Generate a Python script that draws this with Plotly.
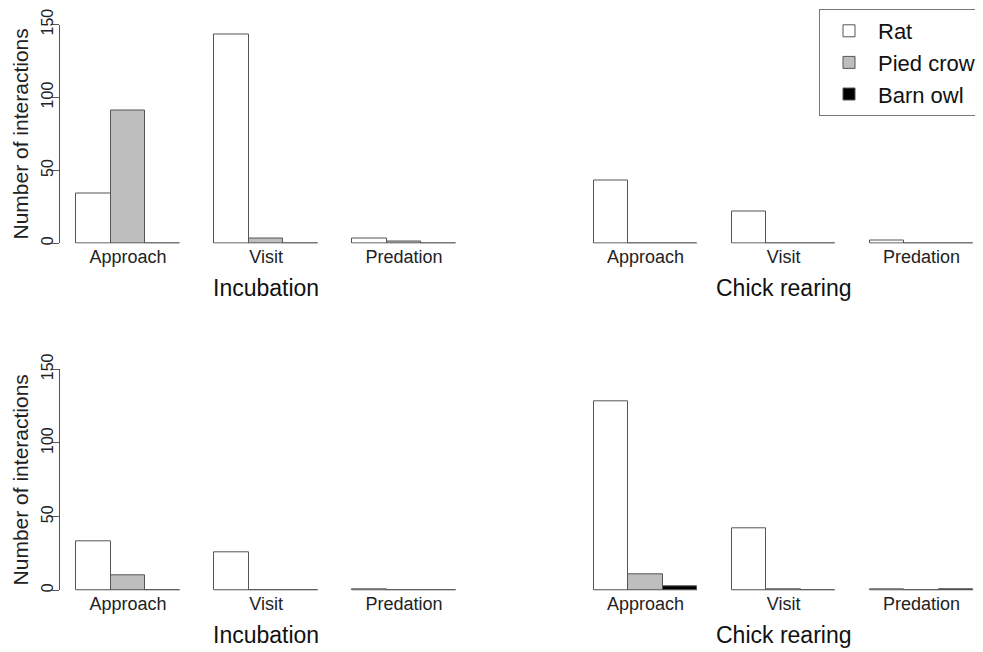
import plotly.graph_objects as go

# ---- data ----
behaviours = ["Approach", "Visit", "Predation"]
stages = ["Incubation", "Chick rearing"]
species = ["Rat", "Pied crow", "Barn owl"]

# top row: values per species, order = Incubation (Approach, Visit, Predation), Chick rearing (Approach, Visit, Predation)
top_rat = [34, 143, 3, 43, 22, 2]
top_crow = [91, 3, 1, 0, 0, 0]
top_owl = [0, 0, 0, 0, 0, 0]

# bottom row
bot_rat = [33, 26, 1, 128, 42, 1]
bot_crow = [10, 0, 0, 11, 1, 0]
bot_owl = [0, 0, 0, 3, 0, 1]

y_ticks = [0, 50, 100, 150]

# ---- styling ----
fills = ["white", "#BEBEBE", "black"]
edge = "#555555"
group_starts = [0, 4, 8, 15, 19, 23]   # bar-width units (R barplot layout)
OFF = 8                      # page body margin
PW, PH = 983, 652            # page size
W, H = PW - OFF, PH - OFF    # figure size

fig = go.Figure()

rows = [
    (dict(xaxis="x", yaxis="y"), [top_rat, top_crow, top_owl]),
    (dict(xaxis="x2", yaxis="y2"), [bot_rat, bot_crow, bot_owl]),
]

for r, (axes, series) in enumerate(rows):
    # group baselines
    for gs in group_starts:
        fig.add_trace(go.Scatter(x=[gs, gs + 3], y=[0, 0], mode="lines",
                                 line=dict(color=edge, width=1),
                                 showlegend=False, hoverinfo="skip", **axes))
    for si, (name, vals) in enumerate(zip(species, series)):
        xs = [gs + 0.5 + si for gs in group_starts]
        fig.add_trace(go.Bar(
            x=xs, y=vals, width=1, name=name,
            marker=dict(color=fills[si], line=dict(color=edge, width=1)),
            showlegend=(r == 0), legendgroup=name, **axes))

tickvals = [gs + 1.5 for gs in group_starts]
ticktext = behaviours * 2

x_px0, unit = 76.3, 34.5     # page px of x=0, px per bar
ax_px = 60                   # page px of y axis line
xdom0 = (ax_px - OFF) / W
xrange = [(ax_px - x_px0) / unit, (PW - x_px0) / unit]

def ydom(px0, px150):
    return [(PH - px0) / H, (PH - px150) / H]

xcommon = dict(range=xrange, domain=[xdom0, 1], showline=False, showgrid=False,
               zeroline=False, ticks="", tickvals=tickvals, ticktext=ticktext,
               tickfont=dict(size=18, color="#222"), ticklabelstandoff=1,
               automargin=False)
ycommon = dict(range=[0, 150], showline=True, linecolor=edge, linewidth=1,
               ticks="outside", ticklen=7, tickcolor=edge, tickvals=y_ticks,
               tickangle=-90, tickfont=dict(size=16, color="#222"),
               ticklabelstandoff=-7, ticklabeloverflow="allow",
               showgrid=False, zeroline=False, automargin=False,
               title=dict(text="Number of interactions", font=dict(size=21, color="#222"), standoff=4))

fig.update_layout(
    width=W, height=H,
    margin=dict(l=0, r=0, t=0, b=0, autoexpand=False),
    plot_bgcolor="white", paper_bgcolor="white",
    font=dict(family="Arial, Liberation Sans, sans-serif", color="#222"),
    barmode="overlay", bargap=0,
    xaxis=dict(**xcommon, anchor="y"),
    yaxis=dict(**ycommon, domain=ydom(243.3, 24.5), anchor="x"),
    xaxis2=dict(**xcommon, anchor="y2"),
    yaxis2=dict(**ycommon, domain=ydom(590.3, 369.3), anchor="x2"),
    legend=dict(x=(819 - OFF) / W, xanchor="left", y=(H - 1) / H, yanchor="top",
                bordercolor="#777", borderwidth=1, bgcolor="white",
                font=dict(size=22, color="#111"), itemwidth=48,
                tracegroupgap=0),
    showlegend=True,
)

for yc in [288, 635]:
    for si, stage in enumerate(stages):
        fig.add_annotation(x=group_starts[3 * si + 1] + 1.5, y=(PH - yc) / H,
                           xref="x", yref="paper", text=stage, showarrow=False,
                           font=dict(size=23, color="#111"), yanchor="middle")

fig.write_html("out.html")
